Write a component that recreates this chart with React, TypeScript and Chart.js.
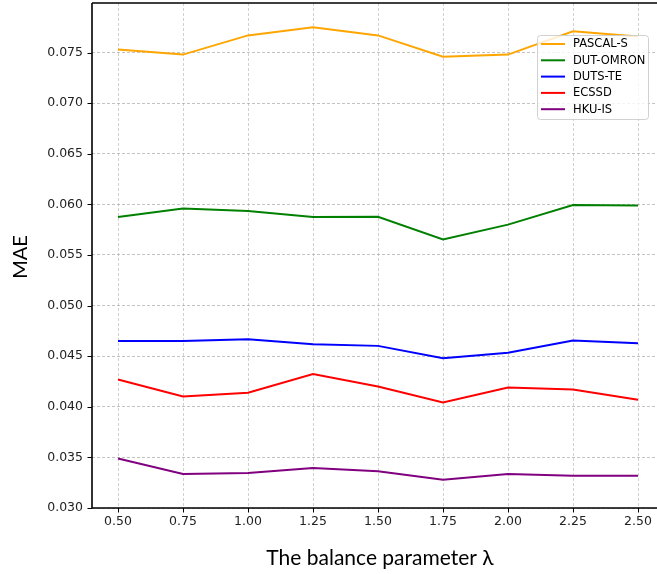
import React, { useEffect, useRef } from "react";
import { Chart, registerables } from "chart.js";

Chart.register(...registerables);

// balance parameter λ values (x axis)
const lambdas = [0.5, 0.75, 1.0, 1.25, 1.5, 1.75, 2.0, 2.25, 2.5];

// MAE per dataset
const pascalS = [0.0753, 0.0748, 0.0767, 0.0775, 0.0767, 0.0746, 0.0748, 0.0771, 0.0766];
const dutOmron = [0.05875, 0.0596, 0.05934, 0.05875, 0.05878, 0.05654, 0.058, 0.05993, 0.0599];
const dutsTe = [0.04651, 0.04651, 0.04668, 0.04619, 0.04602, 0.0448, 0.04533, 0.04655, 0.04628];
const ecssd = [0.0427, 0.04102, 0.04138, 0.04323, 0.04201, 0.04042, 0.04191, 0.04171, 0.04069];
const hkuIs = [0.0349, 0.03336, 0.03346, 0.03395, 0.03362, 0.0328, 0.03336, 0.03319, 0.03319];

const seriesNames = ["PASCAL-S", "DUT-OMRON", "DUTS-TE", "ECSSD", "HKU-IS"];
const seriesColors = ["#FFA500", "#008000", "#0000FF", "#FF0000", "#800080"];

// y tick labels
const yTicks = [0.03, 0.035, 0.04, 0.045, 0.05, 0.055, 0.06, 0.065, 0.07, 0.075];

const xTitle = "The balance parameter λ";
const yTitle = "MAE";

const TICK_FONT = "DejaVu Sans";

// axes spines, tick marks, axis titles
const framePlugin = {
  id: "frame",
  afterDatasetsDraw(chart: any) {
    const { ctx, chartArea: a, scales } = chart;
    ctx.save();
    ctx.strokeStyle = "#000";
    ctx.lineWidth = 1.6;
    ctx.beginPath();
    ctx.moveTo(a.left, a.top);
    ctx.lineTo(a.left, a.bottom);
    ctx.lineTo(a.right, a.bottom);
    ctx.moveTo(a.left, a.top);
    ctx.lineTo(a.right, a.top);
    ctx.stroke();

    ctx.lineWidth = 1;
    ctx.beginPath();
    for (const v of yTicks) {
      const y = Math.round(scales.y.getPixelForValue(v)) + 0.5;
      ctx.moveTo(a.left - 4.5, y);
      ctx.lineTo(a.left, y);
    }
    for (const v of lambdas) {
      const x = Math.round(scales.x.getPixelForValue(v)) + 0.5;
      ctx.moveTo(x, a.bottom);
      ctx.lineTo(x, a.bottom + 4.5);
    }
    ctx.stroke();

    ctx.fillStyle = "#000";
    ctx.textAlign = "center";
    ctx.textBaseline = "middle";
    ctx.font = "21px Lato";
    ctx.fillText(xTitle, 380, 558);

    ctx.translate(21, 257);
    ctx.rotate(-Math.PI / 2);
    ctx.font = "20px Lato";
    ctx.fillText(yTitle, 0, 0);
    ctx.restore();
  },
};

// legend box in the upper right of the plot
const legendPlugin = {
  id: "boxLegend",
  afterDatasetsDraw(chart: any) {
    const { ctx } = chart;
    const x0 = 537;
    const y0 = 35;
    const w = 111;
    const h = 84;
    ctx.save();
    ctx.fillStyle = "rgba(255,255,255,0.8)";
    ctx.strokeStyle = "rgba(204,204,204,0.9)";
    ctx.lineWidth = 1;
    ctx.beginPath();
    ctx.roundRect(x0 + 0.5, y0 + 0.5, w, h, 3);
    ctx.fill();
    ctx.stroke();
    ctx.font = `11.5px '${TICK_FONT}'`;
    ctx.textBaseline = "middle";
    ctx.textAlign = "left";
    chart.data.datasets.forEach((ds: any, i: number) => {
      const y = 44 + i * 16.3;
      ctx.strokeStyle = ds.borderColor;
      ctx.lineWidth = 2;
      ctx.beginPath();
      ctx.moveTo(541, y);
      ctx.lineTo(565, y);
      ctx.stroke();
      ctx.fillStyle = "#000";
      ctx.fillText(ds.label, 573, y + 0.5);
    });
    ctx.restore();
  },
};

export default function App() {
  const canvasRef = useRef<HTMLCanvasElement | null>(null);

  useEffect(() => {
    if (!canvasRef.current) return;
    const values = [pascalS, dutOmron, dutsTe, ecssd, hkuIs];
    const datasets = values.map((vals, i) => ({
      label: seriesNames[i],
      data: lambdas.map((x, j) => ({ x, y: vals[j] })),
      borderColor: seriesColors[i],
      backgroundColor: seriesColors[i],
      borderWidth: 2,
      pointRadius: 0,
      tension: 0,
      fill: false,
    }));

    const chart = new Chart(canvasRef.current, {
      type: "line",
      data: { datasets },
      plugins: [framePlugin, legendPlugin],
      options: {
        animation: false,
        responsive: false,
        maintainAspectRatio: false,
        layout: { padding: { top: 3, right: 16, left: 0, bottom: 0 } },
        plugins: {
          legend: { display: false },
          tooltip: { enabled: false },
        },
        scales: {
          x: {
            type: "linear",
            min: 0.4,
            max: 2.6,
            afterBuildTicks: (scale: any) => {
              scale.ticks = lambdas.map((v) => ({ value: v }));
            },
            afterFit: (scale: any) => {
              scale.height = 66;
              scale.paddingLeft = 0;
              scale.paddingRight = 0;
            },
            grid: {
              color: "rgba(176,176,176,0.75)",
              lineWidth: 0.8,
              drawTicks: false,
            },
            border: { display: false, dash: [3, 2] },
            ticks: {
              padding: 6,
              color: "#222",
              font: { family: TICK_FONT, size: 12.5 },
              callback: (v: any) => Number(v).toFixed(2),
              maxRotation: 0,
              autoSkip: false,
            },
          },
          y: {
            type: "linear",
            min: 0.03,
            max: 0.0799,
            afterBuildTicks: (scale: any) => {
              scale.ticks = yTicks.map((v) => ({ value: v }));
            },
            afterFit: (scale: any) => {
              scale.width = 92;
              scale.paddingTop = 0;
              scale.paddingBottom = 0;
            },
            grid: {
              color: "rgba(160,160,160,0.8)",
              lineWidth: 0.8,
              drawTicks: false,
            },
            border: { display: false, dash: [3, 2] },
            ticks: {
              padding: 9,
              color: "#222",
              font: { family: TICK_FONT, size: 12.5 },
              callback: (v: any) => Number(v).toFixed(3),
              autoSkip: false,
            },
          },
        },
      },
    });
    return () => chart.destroy();
  }, []);

  return (
    <div style={{ position: "fixed", left: 0, top: 0, width: 680, height: 574, background: "#fff" }}>
      <canvas ref={canvasRef} width={680} height={574} style={{ display: "block", width: 680, height: 574 }} />
    </div>
  );
}
